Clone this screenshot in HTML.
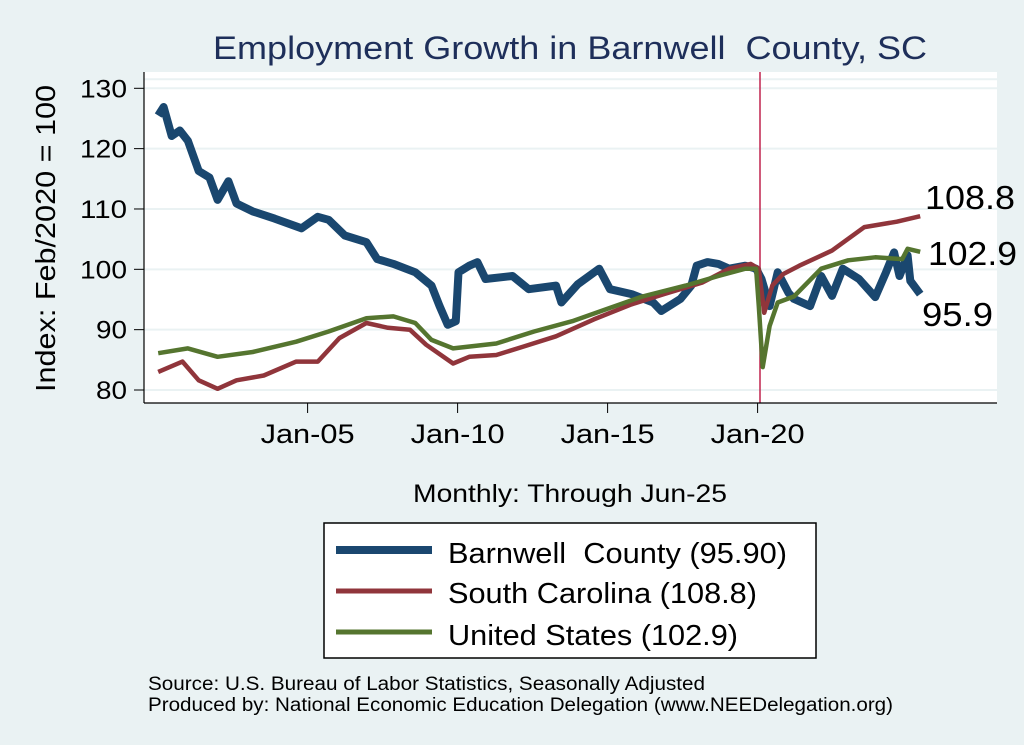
<!DOCTYPE html>
<html><head><meta charset="utf-8"><style>
body{margin:0;background:#eaf2f3;}
svg{display:block;font-family:"Liberation Sans",sans-serif;}
</style></head><body>
<svg id="chart" width="1024" height="745" xmlns="http://www.w3.org/2000/svg">
<rect x="0" y="0" width="1024" height="745" fill="#eaf2f3"/>
<text x="213" y="59" font-size="32" fill="#1e2f5a" textLength="714" lengthAdjust="spacingAndGlyphs" xml:space="preserve">Employment Growth in Barnwell  County, SC</text>
<rect x="144" y="72" width="853" height="331" fill="#fff"/>
<g id="grid"></g>
<g id="series"></g>
<g id="axes"></g>
<text transform="translate(55,392) rotate(-90)" font-size="28" fill="#000" textLength="307" lengthAdjust="spacingAndGlyphs">Index: Feb/2020 = 100</text>
<text x="413" y="502" font-size="25" fill="#000" textLength="314" lengthAdjust="spacingAndGlyphs">Monthly: Through Jun-25</text>
<g>
<rect x="324" y="523" width="492" height="135" fill="#fff" stroke="#000" stroke-width="1.5"/>
<line x1="336" y1="550" x2="432" y2="550" stroke="#1a476f" stroke-width="8"/>
<text x="448" y="563" font-size="29" textLength="339" lengthAdjust="spacingAndGlyphs" xml:space="preserve">Barnwell  County (95.90)</text>
<line x1="336" y1="591" x2="432" y2="591" stroke="#90353b" stroke-width="5"/>
<text x="448" y="603" font-size="29" textLength="309" lengthAdjust="spacingAndGlyphs">South Carolina (108.8)</text>
<line x1="336" y1="632" x2="432" y2="632" stroke="#55752f" stroke-width="5"/>
<text x="448" y="645" font-size="29" textLength="290" lengthAdjust="spacingAndGlyphs">United States (102.9)</text>
</g>
<text x="148" y="690" font-size="19" textLength="557" lengthAdjust="spacingAndGlyphs">Source: U.S. Bureau of Labor Statistics, Seasonally Adjusted</text>
<text x="148" y="711" font-size="19" textLength="745" lengthAdjust="spacingAndGlyphs">Produced by: National Economic Education Delegation (www.NEEDelegation.org)</text>
<text x="925" y="209" font-size="33" textLength="90" lengthAdjust="spacingAndGlyphs">108.8</text>
<text x="928" y="265" font-size="33" textLength="89" lengthAdjust="spacingAndGlyphs">102.9</text>
<text x="922" y="326" font-size="33" textLength="71" lengthAdjust="spacingAndGlyphs">95.9</text>
</svg>
<script>
const yTicks=[80,90,100,110,120,130];
const xTickYears=[2005,2010,2015,2020];
const xTickLabels=["Jan-05","Jan-10","Jan-15","Jan-20"];
const barDates=[2000.02,2000.20,2000.47,2000.74,2001.01,2001.37,2001.73,2002.00,2002.36,2002.63,2003.17,2003.90,2004.80,2005.34,2005.70,2006.24,2006.96,2007.32,2007.86,2008.59,2009.13,2009.40,2009.67,2009.94,2010.03,2010.39,2010.66,2010.93,2011.83,2012.37,2013.28,2013.46,2014.00,2014.72,2015.08,2015.80,2016.52,2016.79,2017.43,2017.79,2017.97,2018.33,2018.69,2019.05,2019.59,2019.95,2020.13,2020.40,2020.67,2021.03,2021.21,2021.75,2022.12,2022.48,2022.84,2023.38,2023.92,2024.28,2024.55,2024.73,2025.00,2025.09,2025.42];
const barValues=[125.5,126.9,122.1,123.0,121.3,116.3,115.2,111.5,114.6,110.9,109.6,108.4,106.8,108.7,108.2,105.6,104.5,101.7,100.9,99.5,97.3,93.9,90.8,91.4,99.5,100.6,101.2,98.4,98.9,96.7,97.3,94.5,97.5,100.1,96.7,95.9,94.5,93.1,95.1,97.3,100.6,101.2,100.9,100.1,100.6,100.1,98.4,93.9,99.5,96.1,95.1,93.9,98.9,95.6,100.1,98.4,95.4,99.5,102.8,98.9,102.3,98.1,95.9];
const scDates=[2000.02,2000.83,2001.37,2002.00,2002.63,2003.54,2004.62,2005.34,2006.06,2006.96,2007.68,2008.41,2008.95,2009.85,2010.39,2011.29,2012.19,2013.28,2014.54,2015.80,2016.88,2018.15,2019.05,2019.77,2020.04,2020.22,2020.49,2020.85,2021.39,2022.48,2023.56,2024.64,2025.42];
const scValues=[83.0,84.7,81.6,80.2,81.6,82.4,84.7,84.7,88.6,91.1,90.3,90.0,87.5,84.4,85.5,85.8,87.2,88.9,91.7,94.2,95.9,97.8,100.1,100.9,100.1,92.8,97.3,99.2,100.6,103.1,107.0,107.9,108.8];
const usDates=[2000.02,2001.01,2002.00,2003.17,2004.62,2005.70,2006.96,2007.86,2008.59,2009.13,2009.85,2011.29,2012.55,2013.82,2015.08,2016.16,2017.60,2018.69,2019.59,2019.95,2020.04,2020.17,2020.40,2020.67,2021.21,2022.12,2023.02,2023.92,2024.82,2025.00,2025.42];
const usValues=[86.1,86.9,85.5,86.3,88.0,89.7,91.9,92.2,91.1,88.3,86.9,87.7,89.7,91.4,93.6,95.5,97.3,98.9,100.1,100.1,93.9,83.8,90.6,94.5,95.5,100.1,101.5,102.0,101.7,103.4,102.9];

const NS="http://www.w3.org/2000/svg";
const X=y=>760+(y-2020.08)*30;
const Y=v=>390-(v-80)*6.034;
function mk(tag,attrs,parent){const e=document.createElementNS(NS,tag);for(const k in attrs)e.setAttribute(k,attrs[k]);parent.appendChild(e);return e;}
const grid=document.getElementById('grid'),axes=document.getElementById('axes'),ser=document.getElementById('series');
for(let i=0;i<yTicks.length;i++){
  const t=yTicks[i];
  const g=mk('line',{x1:144,x2:997,y1:Y(t),y2:Y(t),stroke:'#eaf2f3','stroke-width':2},grid);
  
  
  const tk=mk('line',{x1:134,x2:144,y1:Y(t),y2:Y(t),stroke:'#000','stroke-width':1},axes);
  
  
  const s=String(t);
  const lb=mk('text',{x:127-(s.length===3?47:31),y:Y(t)+9,'font-size':25,textLength:(s.length===3?47:31),lengthAdjust:'spacingAndGlyphs'},axes);
  lb.textContent=s;
  
  
}
const tg=mk('line',{x1:144,x2:997,y1:Y(131.5),y2:Y(131.5),stroke:'#eaf2f3','stroke-width':2},grid);


for(let i=0;i<xTickYears.length;i++){
  const x=X(xTickYears[i]);
  const tk=mk('line',{x1:x,x2:x,y1:403,y2:413,stroke:'#000','stroke-width':1},axes);
  
  
  const lb=mk('text',{x:x-47,y:443,'font-size':27,textLength:94,lengthAdjust:'spacingAndGlyphs'},axes);
  lb.textContent=xTickLabels[i];
  
  
}
const ax1=mk('line',{x1:144,x2:144,y1:72,y2:403,stroke:'#000','stroke-width':1.2},axes);


const ax2=mk('line',{x1:144,x2:997,y1:403,y2:403,stroke:'#000','stroke-width':1.2},axes);


function path(d,v){return d.map((t,i)=>(i?'L':'M')+X(t).toFixed(1)+','+Y(v[i]).toFixed(1)).join(' ');}
const vl=mk('line',{x1:X(2020.08),x2:X(2020.08),y1:72,y2:403,stroke:'#c0244f','stroke-width':1.5},ser);


const p1=mk('path',{d:path(barDates,barValues),fill:'none',stroke:'#1a476f','stroke-width':8,'stroke-linejoin':'round'},ser);


const p2=mk('path',{d:path(scDates,scValues),fill:'none',stroke:'#90353b','stroke-width':4.5,'stroke-linejoin':'round'},ser);


const p3=mk('path',{d:path(usDates,usValues),fill:'none',stroke:'#55752f','stroke-width':4.5,'stroke-linejoin':'round'},ser);


</script>
</body></html>
